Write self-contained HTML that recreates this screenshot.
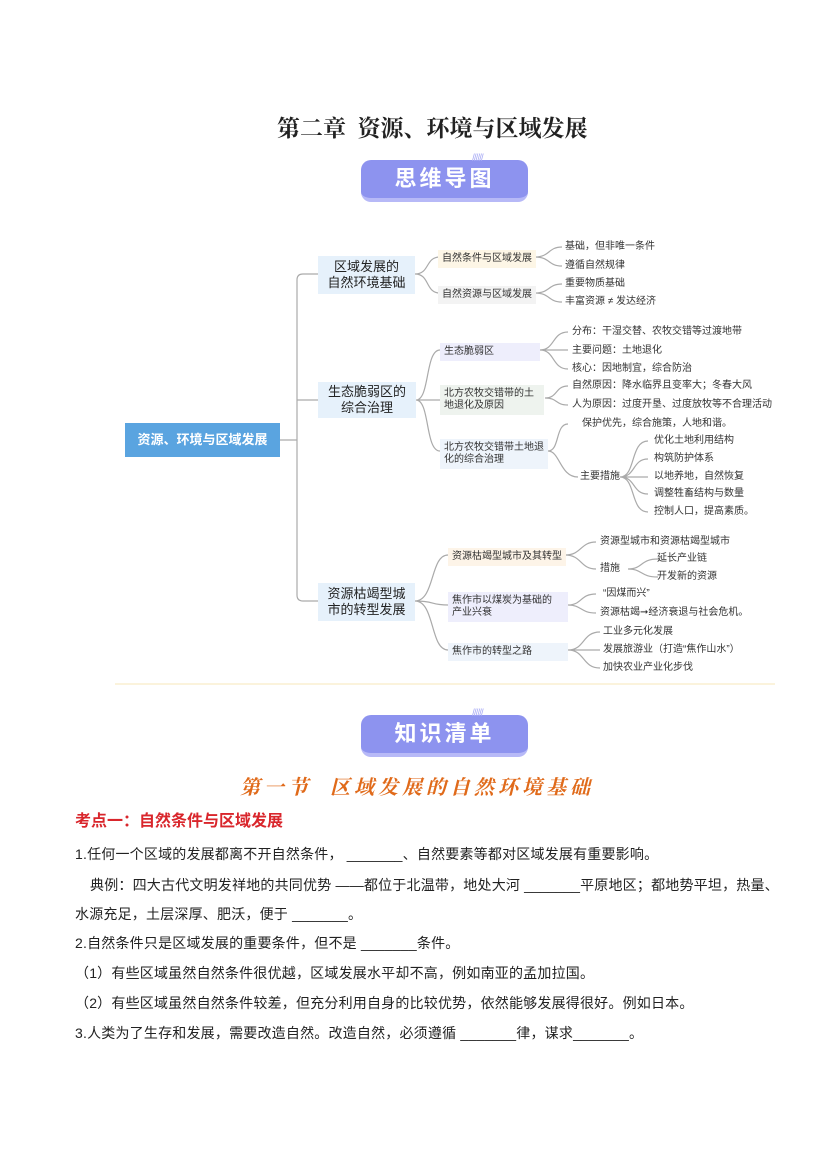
<!DOCTYPE html>
<html><head><meta charset="utf-8"><style>
body{margin:0;background:#fff;}
#p{position:relative;width:827px;height:1169px;overflow:hidden;font-family:"Liberation Sans","Noto Sans CJK SC",sans-serif;color:#222;}
.a{position:absolute;white-space:nowrap;}
.t{font-size:10px;color:#333;line-height:12px;}
.l1{position:absolute;background:#e6f1fb;font-size:13px;text-align:center;line-height:16px;color:#222;}
.l2{position:absolute;font-size:10px;line-height:12px;color:#333;padding:3px 4px;white-space:nowrap;}
.ban{position:absolute;width:167px;height:42px;border-radius:10px;background:#8d93ef;border-bottom:4px solid #b7b9f7;box-sizing:border-box;color:#fff;font-size:22px;font-weight:bold;text-align:center;line-height:38px;letter-spacing:3px;}
.body{font-size:14px;line-height:18px;color:#222;letter-spacing:0.2px;}
</style></head><body><div id="p">
<div class="a" style="left:277px;top:110px;font-size:23px;font-weight:bold;font-family:'Liberation Serif','Noto Serif CJK SC',serif;">第二章&nbsp; 资源、环境与区域发展</div>
<div class="ban" style="left:361px;top:160px;">思维导图</div>
<div class="a" style="left:472px;top:153px;color:#a9acf5;font-size:10px;letter-spacing:-1px;">//////</div>

<svg class="a" style="left:0;top:0" width="827" height="700" fill="none" stroke="#aaa" stroke-width="1.2">
<path d="M280 440H297M318 274H303Q297 274 297 280V595Q297 601 303 601H318M297 400H318"/>
<path d="M415 274C430 274 425 257 440 257M415 274C430 274 425 293 440 293"/>
<path d="M416 400C430 400 425 350 440 350M416 400H440M416 400C430 400 425 451 440 451"/>
<path d="M415 601C435 601 430 555 448 555M415 601C435 601 430 605 448 605M415 601C435 601 430 650 448 650"/>
<path d="M535 257C550 257 548 247 562 247M535 257C550 257 548 266 562 266"/>
<path d="M535 293C550 293 548 284 562 284M535 293C550 293 548 302 562 302"/>
<path d="M540 350C555 350 552 332 568 332M540 350H568M540 350C555 350 552 369 568 369"/>
<path d="M545 398C558 398 555 386 568 386M545 398C558 398 555 405 568 405"/>
<path d="M548 451C560 451 555 424 568 424M548 451C560 451 560 477 578 477"/>
<path d="M620 477C636 477 630 441 648 441M620 477C636 477 632 459 648 459M620 477H648M620 477C636 477 632 494 648 494M620 477C636 477 630 512 648 512"/>
<path d="M565 555C582 555 580 542 596 542M565 555C582 555 580 569 596 569"/>
<path d="M628 569C643 569 640 559 658 559M628 569C643 569 640 577 658 577"/>
<path d="M568 605C582 605 580 594 596 594M568 605C582 605 580 613 596 613"/>
<path d="M568 650C585 650 582 632 600 632M568 650H600M568 650C585 650 582 668 600 668"/>
</svg>

<div class="a" style="left:125px;top:423px;width:155px;height:34px;background:#5aa4e0;color:#fff;font-size:13px;font-weight:bold;text-align:center;line-height:34px;">资源、环境与区域发展</div>
<div class="l1" style="left:318px;top:256px;width:97px;height:38px;padding-top:3px;box-sizing:border-box;">区域发展的<br>自然环境基础</div>
<div class="l1" style="left:318px;top:382px;width:98px;height:36px;padding-top:2px;box-sizing:border-box;">生态脆弱区的<br>综合治理</div>
<div class="l1" style="left:318px;top:583px;width:97px;height:38px;padding-top:3px;box-sizing:border-box;">资源枯竭型城<br>市的转型发展</div>

<div class="l2" style="left:438px;top:250px;background:#fdf6e6;">自然条件与区域发展</div>
<div class="l2" style="left:438px;top:286px;background:#f3f3f3;">自然资源与区域发展</div>
<div class="l2" style="left:440px;top:343px;width:92px;background:#eeeefc;">生态脆弱区</div>
<div class="l2" style="left:440px;top:385px;width:96px;background:#eef3ee;">北方农牧交错带的土<br>地退化及原因</div>
<div class="l2" style="left:440px;top:439px;width:100px;background:#eef4fb;">北方农牧交错带土地退<br>化的综合治理</div>
<div class="t a" style="left:580px;top:471px;">主要措施</div>
<div class="l2" style="left:448px;top:548px;background:#fdf4e8;">资源枯竭型城市及其转型</div>
<div class="l2" style="left:448px;top:592px;width:112px;background:#eeeefc;">焦作市以煤炭为基础的<br>产业兴衰</div>
<div class="l2" style="left:448px;top:643px;width:112px;background:#eef4fb;">焦作市的转型之路</div>

<div class="a t" style="left:565px;top:241px;">基础，但非唯一条件</div>
<div class="a t" style="left:565px;top:260px;">遵循自然规律</div>
<div class="a t" style="left:565px;top:278px;">重要物质基础</div>
<div class="a t" style="left:565px;top:296px;">丰富资源 ≠ 发达经济</div>
<div class="a t" style="left:572px;top:326px;">分布：干湿交替、农牧交错等过渡地带</div>
<div class="a t" style="left:572px;top:345px;">主要问题：土地退化</div>
<div class="a t" style="left:572px;top:363px;">核心：因地制宜，综合防治</div>
<div class="a t" style="left:572px;top:380px;">自然原因：降水临界且变率大；冬春大风</div>
<div class="a t" style="left:572px;top:399px;">人为原因：过度开垦、过度放牧等不合理活动</div>
<div class="a t" style="left:582px;top:418px;">保护优先，综合施策，人地和谐。</div>
<div class="a t" style="left:654px;top:435px;">优化土地利用结构</div>
<div class="a t" style="left:654px;top:453px;">构筑防护体系</div>
<div class="a t" style="left:654px;top:471px;">以地养地，自然恢复</div>
<div class="a t" style="left:654px;top:488px;">调整牲畜结构与数量</div>
<div class="a t" style="left:654px;top:506px;">控制人口，提高素质。</div>
<div class="a t" style="left:600px;top:536px;">资源型城市和资源枯竭型城市</div>
<div class="a t" style="left:600px;top:563px;">措施</div>
<div class="a t" style="left:657px;top:553px;">延长产业链</div>
<div class="a t" style="left:657px;top:571px;">开发新的资源</div>
<div class="a t" style="left:603px;top:588px;">“因煤而兴”</div>
<div class="a t" style="left:600px;top:607px;">资源枯竭➞经济衰退与社会危机。</div>
<div class="a t" style="left:603px;top:626px;">工业多元化发展</div>
<div class="a t" style="left:603px;top:644px;">发展旅游业（打造“焦作山水”）</div>
<div class="a t" style="left:603px;top:662px;">加快农业产业化步伐</div>

<div class="a" style="left:115px;top:683px;width:660px;height:2px;background:#fbf3dc;"></div>
<div class="ban" style="left:361px;top:715px;">知识清单</div>
<div class="a" style="left:472px;top:708px;color:#a9acf5;font-size:10px;letter-spacing:-1px;">//////</div>
<div class="a" style="left:240px;top:771px;font-size:20px;font-weight:bold;font-style:italic;color:#e06a1a;font-family:'Liberation Serif','Noto Serif CJK SC',serif;letter-spacing:4px;">第一节&nbsp; 区域发展的自然环境基础</div>
<div class="a" style="left:75px;top:807px;font-size:16px;font-weight:bold;color:#d9262c;">考点一：自然条件与区域发展</div>
<div class="a body" style="left:75px;top:845px;">1.任何一个区域的发展都离不开自然条件， _______、自然要素等都对区域发展有重要影响。</div>
<div class="a body" style="left:90px;top:876px;">典例：四大古代文明发祥地的共同优势 ——都位于北温带，地处大河 _______平原地区；都地势平坦，热量、</div>
<div class="a body" style="left:75px;top:905px;">水源充足，土层深厚、肥沃，便于 _______。</div>
<div class="a body" style="left:75px;top:934px;">2.自然条件只是区域发展的重要条件，但不是 _______条件。</div>
<div class="a body" style="left:75px;top:964px;">（1）有些区域虽然自然条件很优越，区域发展水平却不高，例如南亚的孟加拉国。</div>
<div class="a body" style="left:75px;top:994px;">（2）有些区域虽然自然条件较差，但充分利用自身的比较优势，依然能够发展得很好。例如日本。</div>
<div class="a body" style="left:75px;top:1024px;">3.人类为了生存和发展，需要改造自然。改造自然，必须遵循 _______律，谋求_______。</div>
</div></body></html>
